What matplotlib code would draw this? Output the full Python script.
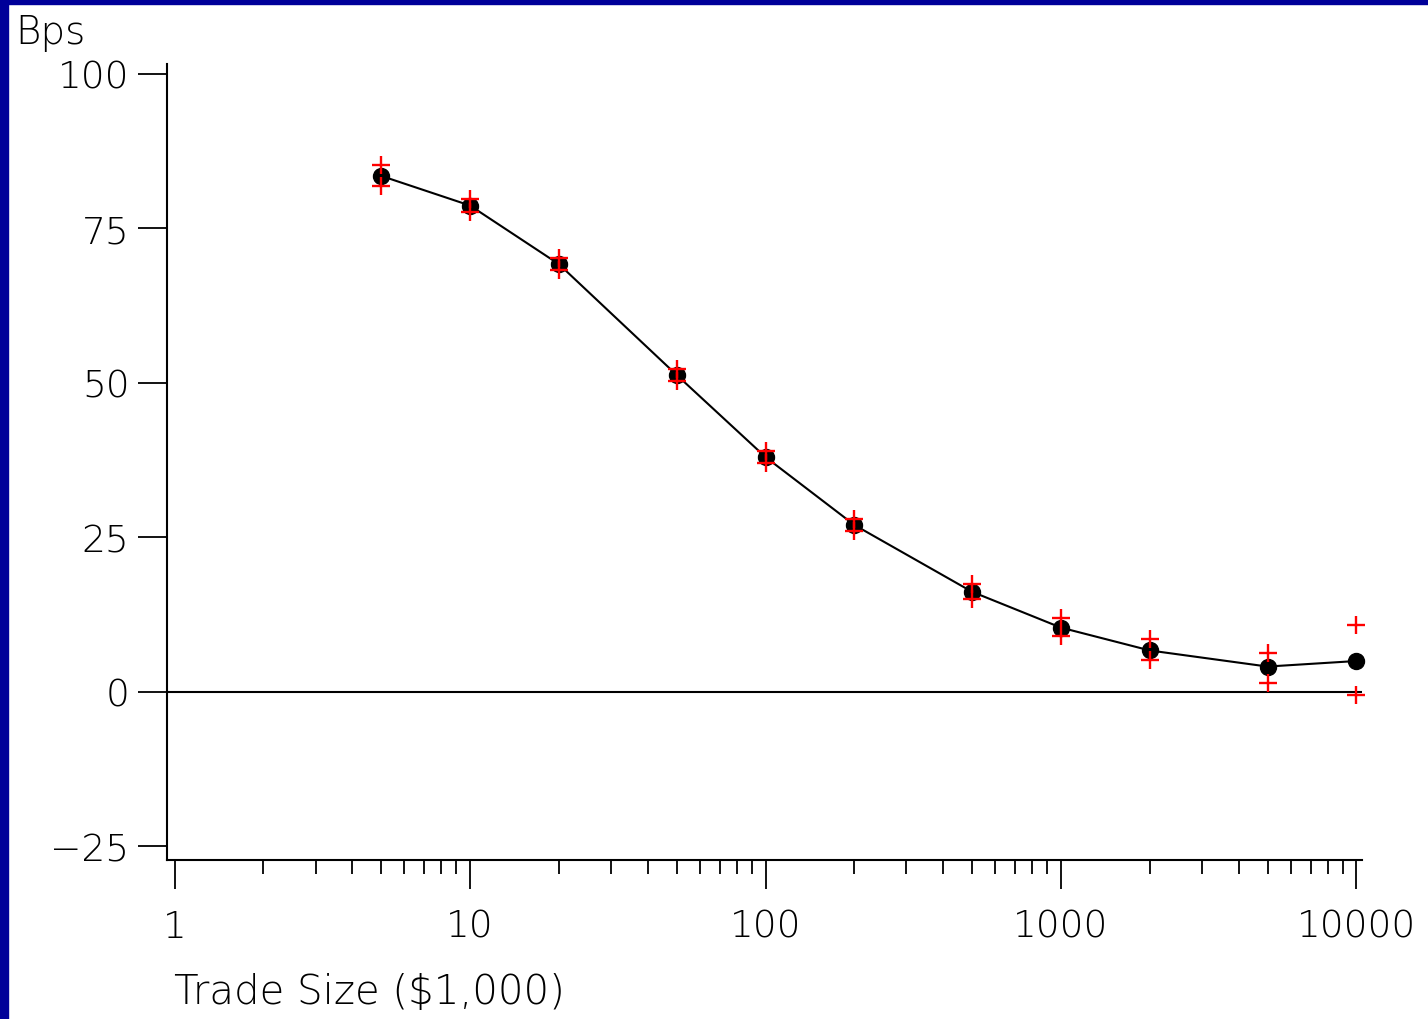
import matplotlib.pyplot as plt
from matplotlib.patches import Rectangle
from matplotlib.ticker import FixedLocator, NullFormatter

# data
trade_size = [5, 10, 20, 50, 100, 200, 500, 1000, 2000, 5000, 10000]
bps_mean = [83.5, 78.7, 69.2, 51.3, 38.0, 27.0, 16.2, 10.4, 6.7, 4.1, 5.0]
bps_upper = [85.2, 79.8, 70.2, 52.3, 39.0, 28.0, 17.4, 11.9, 8.5, 6.3, 10.8]
bps_lower = [81.8, 77.7, 68.2, 50.3, 37.0, 26.0, 15.0, 9.1, 5.2, 1.5, -0.5]

x_ticks = [1, 10, 100, 1000, 10000]
x_ticklabels = ["1", "10", "100", "1000", "10000"]
y_ticks = [-25, 0, 25, 50, 75, 100]
y_ticklabels = ["\u221225", "0", "25", "50", "75", "100"]

plt.rcParams["font.family"] = ["DejaVu Sans"]
plt.rcParams["font.weight"] = "light"

fig = plt.figure(figsize=(14.28, 10.2), dpi=100)
fig.patch.set_facecolor("white")

# dark blue frame on the left and top edges
fig.patches.append(Rectangle((0, 0), 8 / 1428, 1, transform=fig.transFigure,
                             color="#000099", zorder=0))
fig.patches.append(Rectangle((0, 1 - 5 / 1020), 1, 5 / 1020, transform=fig.transFigure,
                             color="#000099", zorder=0))

ax = fig.add_axes([167 / 1428, 1 - 861 / 1020, (1362 - 167) / 1428, (861 - 65) / 1020])

ax.set_xscale("log")
ax.set_xlim(0.943, 10440)
ax.set_ylim(-27.2, 101.6)

ax.axhline(0, color="black", lw=1.5, zorder=1)

ax.plot(trade_size, bps_mean, color="black", lw=1.5, zorder=2, clip_on=False)
ax.plot(trade_size, bps_mean, "o", color="black", ms=11.5, zorder=3, clip_on=False)
ax.plot(trade_size, bps_upper, "+", color="red", ms=13, mew=1.7, zorder=4, clip_on=False)
ax.plot(trade_size, bps_lower, "+", color="red", ms=13, mew=1.7, zorder=4, clip_on=False)

for side in ["top", "right"]:
    ax.spines[side].set_visible(False)
ax.spines["left"].set_linewidth(1.5)
ax.spines["bottom"].set_linewidth(1.5)

ax.xaxis.set_major_locator(FixedLocator(x_ticks))
ax.set_xticklabels(x_ticklabels)
minors = [m * 10 ** d for d in range(4) for m in range(2, 10)]
ax.xaxis.set_minor_locator(FixedLocator(minors))
ax.xaxis.set_minor_formatter(NullFormatter())
ax.tick_params(axis="x", which="major", direction="out", length=21, width=1.3,
               pad=14, labelsize=27)
ax.tick_params(axis="x", which="minor", direction="out", length=10, width=1.3)

ax.set_yticks(y_ticks)
ax.set_yticklabels(y_ticklabels)
ax.tick_params(axis="y", which="major", direction="out", length=21, width=1.3,
               pad=6, labelsize=27)

fig.text(15 / 1428, 1 - 33 / 1020, "Bps", fontsize=28, va="center", ha="left")
fig.text(174 / 1428, 1 - 993 / 1020, "Trade Size ($1,000)", fontsize=29,
         va="center", ha="left")

fig.savefig("out.png", dpi=100)
